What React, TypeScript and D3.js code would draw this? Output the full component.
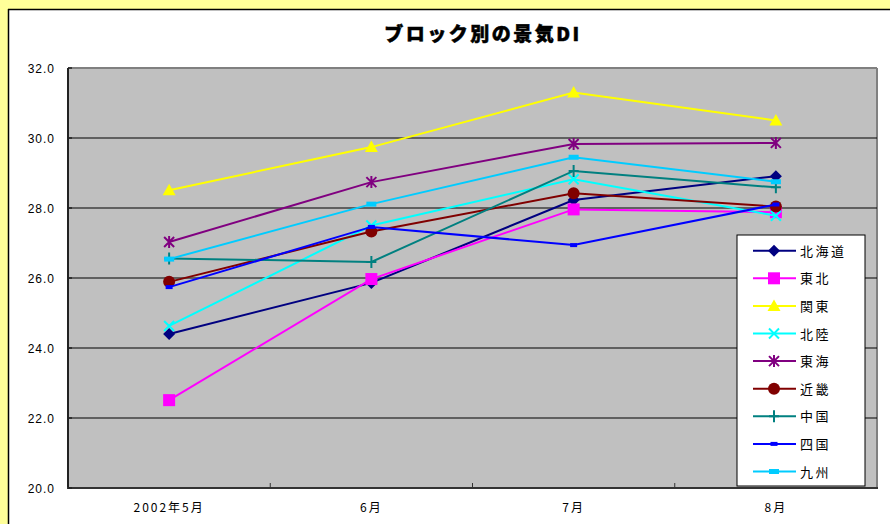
import React from "react";
import * as d3 from "d3";

const months = ["2002年5月", "6月", "7月", "8月"];
const yTicks = [20, 22, 24, 26, 28, 30, 32];

const hokkaido = [24.4, 25.86, 28.23, 28.91];
const tohoku = [22.51, 25.97, 27.96, 27.88];
const kanto = [28.51, 29.74, 31.3, 30.5];
const hokuriku = [24.63, 27.5, 28.82, 27.78];
const tokai = [27.03, 28.74, 29.83, 29.86];
const kinki = [25.89, 27.33, 28.42, 28.04];
const chugoku = [26.56, 26.46, 29.06, 28.59];
const shikoku = [25.74, 27.46, 26.94, 28.1];
const kyushu = [26.54, 28.11, 29.45, 28.75];

type Marker = "diamond" | "square" | "triangle" | "x" | "star" | "circle" | "plus" | "dashS" | "dashL";

const series: { name: string; values: number[]; color: string; marker: Marker }[] = [
  { name: "北海道", values: hokkaido, color: "#000080", marker: "diamond" },
  { name: "東北", values: tohoku, color: "#FF00FF", marker: "square" },
  { name: "関東", values: kanto, color: "#FFFF00", marker: "triangle" },
  { name: "北陸", values: hokuriku, color: "#00FFFF", marker: "x" },
  { name: "東海", values: tokai, color: "#800080", marker: "star" },
  { name: "近畿", values: kinki, color: "#800000", marker: "circle" },
  { name: "中国", values: chugoku, color: "#008080", marker: "plus" },
  { name: "四国", values: shikoku, color: "#0000FF", marker: "dashS" },
  { name: "九州", values: kyushu, color: "#00CCFF", marker: "dashL" },
];

const W = 890;
const H = 524;
const plot = { left: 68, top: 68, right: 877, bottom: 488 };

const x = d3.scaleBand<string>().domain(months).range([plot.left, plot.right]);
const y = d3.scaleLinear().domain([20, 32]).range([plot.bottom, plot.top]);

const jp = "'Noto Sans CJK JP', 'Liberation Sans', sans-serif";

function MarkerShape({ kind, cx, cy, color }: { kind: Marker; cx: number; cy: number; color: string }) {
  switch (kind) {
    case "diamond":
      return <path d={`M${cx},${cy - 6}L${cx + 6},${cy}L${cx},${cy + 6}L${cx - 6},${cy}Z`} fill={color} />;
    case "square":
      return <rect x={cx - 6} y={cy - 6} width={12} height={12} fill={color} />;
    case "triangle":
      return <path d={`M${cx},${cy - 6.5}L${cx + 6.5},${cy + 5}L${cx - 6.5},${cy + 5}Z`} fill={color} />;
    case "x":
      return (
        <path
          d={`M${cx - 5},${cy - 5}L${cx + 5},${cy + 5}M${cx + 5},${cy - 5}L${cx - 5},${cy + 5}`}
          stroke={color}
          strokeWidth={2}
        />
      );
    case "star":
      return (
        <path
          d={`M${cx - 5},${cy - 5}L${cx + 5},${cy + 5}M${cx + 5},${cy - 5}L${cx - 5},${cy + 5}M${cx},${cy - 6}L${cx},${cy + 6}`}
          stroke={color}
          strokeWidth={2}
        />
      );
    case "circle":
      return <circle cx={cx} cy={cy} r={6} fill={color} />;
    case "plus":
      return (
        <path d={`M${cx - 5},${cy}L${cx + 5},${cy}M${cx},${cy - 6}L${cx},${cy + 6}`} stroke={color} strokeWidth={2} />
      );
    case "dashS":
      return <rect x={cx - 3.5} y={cy - 2} width={7} height={4} fill={color} />;
    case "dashL":
      return <rect x={cx - 5} y={cy - 2.5} width={10} height={5} fill={color} />;
  }
}

export default function App() {
  const line = d3
    .line<number>()
    .x((_, i) => (x(months[i]) as number) + x.bandwidth() / 2)
    .y((v) => y(v));

  const legend = { x: 737, y: 235, w: 128, h: 251, first: 250.7, step: 27.6 };

  return (
    <svg
      width={W}
      height={H}
      style={{ position: "absolute", left: 0, top: 0, display: "block" }}
      xmlns="http://www.w3.org/2000/svg"
    >
      <rect x={0} y={0} width={W} height={H} fill="#FFFF99" />
      <rect x={8} y={9} width={W} height={H} fill="#FFFFFF" />
      <line x1={8} y1={9.5} x2={W} y2={9.5} stroke="#000" strokeWidth={1.5} />
      <line x1={8.5} y1={9} x2={8.5} y2={H} stroke="#000" strokeWidth={1.5} />

      <text
        x={483}
        y={41}
        textAnchor="middle"
        fontFamily={jp}
        fontWeight={900}
        fontSize={19}
        letterSpacing={2.5}
        fill="#000"
        stroke="#000"
        strokeWidth={0.5}
      >
        ブロック別の景気DI
      </text>

      {/* plot area */}
      <rect
        x={plot.left}
        y={plot.top}
        width={plot.right - plot.left}
        height={plot.bottom - plot.top}
        fill="#C0C0C0"
      />
      <line x1={plot.left} y1={plot.top} x2={plot.right} y2={plot.top} stroke="#808080" strokeWidth={2} />
      <line x1={plot.right} y1={plot.top} x2={plot.right} y2={plot.bottom} stroke="#808080" strokeWidth={2} />

      {yTicks
        .filter((t) => t > 20 && t < 32)
        .map((t) => (
          <line key={t} x1={plot.left} y1={y(t)} x2={plot.right} y2={y(t)} stroke="#000" strokeWidth={1} />
        ))}

      {/* axes */}
      <line x1={plot.left} y1={plot.top} x2={plot.left} y2={plot.bottom + 1} stroke="#222" strokeWidth={2} />
      <line x1={plot.left - 1} y1={plot.bottom} x2={plot.right + 1} y2={plot.bottom} stroke="#333" strokeWidth={2} />
      {yTicks.map((t) => (
        <line key={"yt" + t} x1={plot.left} y1={y(t)} x2={plot.left + 4} y2={y(t)} stroke="#222" strokeWidth={1.5} />
      ))}
      {months.slice(1).map((m) => (
        <line
          key={"xt" + m}
          x1={x(m) as number}
          y1={plot.bottom - 5}
          x2={x(m) as number}
          y2={plot.bottom}
          stroke="#333"
          strokeWidth={1}
        />
      ))}

      {yTicks.map((t) => (
        <text
          key={"yl" + t}
          x={55}
          y={y(t) + 4.5}
          textAnchor="end"
          fontFamily="'Liberation Sans', Arial, sans-serif"
          fontSize={12}
          letterSpacing={1}
          fill="#000"
        >
          {t.toFixed(1)}
        </text>
      ))}
      {months.map((m) => (
        <text
          key={"xl" + m}
          x={(x(m) as number) + x.bandwidth() / 2}
          y={512}
          textAnchor="middle"
          fontFamily={jp}
          fontSize={12}
          letterSpacing={2}
          fill="#000"
        >
          {m}
        </text>
      ))}

      {/* series */}
      {series.map((s) => (
        <g key={s.name}>
          <path d={line(s.values) as string} fill="none" stroke={s.color} strokeWidth={2} />
          {s.values.map((v, i) => (
            <MarkerShape
              key={i}
              kind={s.marker}
              cx={(x(months[i]) as number) + x.bandwidth() / 2}
              cy={y(v)}
              color={s.color}
            />
          ))}
        </g>
      ))}

      {/* legend */}
      <rect x={legend.x} y={legend.y} width={legend.w} height={legend.h} fill="#FFFFFF" stroke="#000" strokeWidth={1} />
      {series.map((s, i) => {
        const ly = legend.first + i * legend.step;
        return (
          <g key={"lg" + s.name}>
            <line x1={753} y1={ly} x2={796} y2={ly} stroke={s.color} strokeWidth={2} />
            <MarkerShape kind={s.marker} cx={774} cy={ly} color={s.color} />
            <text x={800} y={ly + 5} fontFamily={jp} fontSize={13} letterSpacing={2.5} fill="#000">
              {s.name}
            </text>
          </g>
        );
      })}
    </svg>
  );
}
